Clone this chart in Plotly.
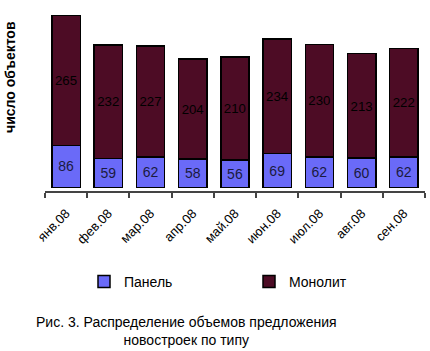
import plotly.graph_objects as go

months = ["янв.08", "фев.08", "мар.08", "апр.08", "май.08", "июн.08", "июл.08", "авг.08", "сен.08"]
panel = [86, 59, 62, 58, 56, 69, 62, 60, 62]
monolit = [265, 232, 227, 204, 210, 234, 230, 213, 222]

fig = go.Figure()
fig.add_trace(go.Bar(
    x=months, y=panel, name="Панель",
    marker=dict(color="#6a6af8", line=dict(color="#000000", width=1.5)),
    text=panel, textposition="inside", insidetextanchor="middle", textangle=0,
    textfont=dict(family="Arial, Liberation Sans", size=14, color="#1a1a40"),
))
fig.add_trace(go.Bar(
    x=months, y=monolit, name="Монолит",
    marker=dict(color="#4d0c25", line=dict(color="#000000", width=1.5)),
    text=monolit, textposition="inside", insidetextanchor="middle", textangle=0,
    textfont=dict(family="Arial, Liberation Sans", size=14, color="#000000"),
))

fig.update_layout(
    barmode="stack",
    bargap=0.33,
    width=430, height=351,
    margin=dict(l=45, r=5, t=11, b=160),
    paper_bgcolor="white", plot_bgcolor="white",
    font=dict(family="Arial, Liberation Sans", size=13, color="#000000"),
    legend=dict(
        orientation="h", x=(84-45)/380, y=-(282-191)/180, xanchor="left", yanchor="middle",
        entrywidth=120, entrywidthmode="pixels", itemwidth=30,
        font=dict(size=14, color="#000000"),
        traceorder="normal",
    ),
    xaxis=dict(
        showline=True, linecolor="#444444", linewidth=1.5,
        ticks="outside", ticklen=5, tickcolor="#444444", tickwidth=1.5,
        tickson="boundaries", tickangle=-45, ticklabelstandoff=8,
        tickfont=dict(size=13, color="#000000"),
        showgrid=False,
    ),
    yaxis=dict(
        range=[-7.1, 360], showgrid=False, showticklabels=False,
        zeroline=False, showline=False, ticks="",
    ),
    annotations=[
        dict(text="<b>число объектов</b>", textangle=-90, xref="paper", yref="paper",
             x=-45/380, xanchor="left", y=(191-77)/180, yanchor="middle",
             showarrow=False, font=dict(size=14, color="#000000")),
        dict(text="Рис. 3. Распределение объемов предложения<br>новостроек по типу",
             xref="paper", yref="paper", x=(186-45)/380, xanchor="center",
             y=-(331-191)/180, yanchor="middle", align="center", showarrow=False,
             font=dict(size=14, color="#000000")),
    ],
)

fig.write_html("out.html")
